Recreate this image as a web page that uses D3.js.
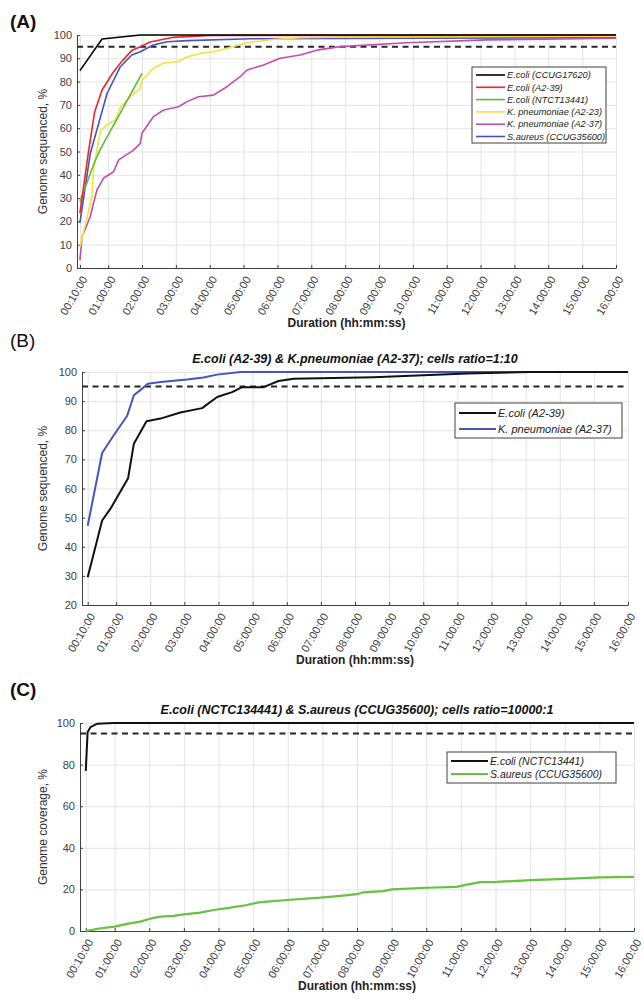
<!DOCTYPE html>
<html>
<head>
<meta charset="utf-8">
<script src="https://cdn.jsdelivr.net/npm/d3@7"></script>
<style>
  body { margin: 0; background: #fff; }
  svg { display: block; font-family: "Liberation Sans", Arial, sans-serif; }
  .grid line { stroke: #e3e3e3; stroke-width: 1; }
  .grid path { display: none; }
  .axis path, .axis line { stroke: #404040; stroke-width: 1; }
  .axis text { fill: #404040; font-size: 11px; }
</style>
</head>
<body>
<svg id="chart" width="644" height="999"></svg>
<script>
/* x ticks, in hours, with their labels */
var xTickHours = [1/6, 1, 2, 3, 4, 5, 6, 7, 8, 9, 10, 11, 12, 13, 14, 15, 16];
var xTickLabels = ["00:10:00", "01:00:00", "02:00:00", "03:00:00", "04:00:00", "05:00:00",
  "06:00:00", "07:00:00", "08:00:00", "09:00:00", "10:00:00", "11:00:00", "12:00:00",
  "13:00:00", "14:00:00", "15:00:00", "16:00:00"];
var yTicksA = [0, 10, 20, 30, 40, 50, 60, 70, 80, 90, 100];
var yTicksB = [20, 30, 40, 50, 60, 70, 80, 90, 100];
var yTicksC = [0, 20, 40, 60, 80, 100];
var threshold = 95;

/* PANEL A : time (h) and genome sequenced (%) */
var namesA = ["E.coli (CCUG17620)", "E.coli (A2-39)", "E.coli (NTCT13441)",
  "K. pneumoniae (A2-23)", "K. pneumoniae (A2-37)", "S.aureus (CCUG35600)"];
var tA_ccug17620 = [1/6, 0.82, 1.95, 16];
var vA_ccug17620 = [84.7, 98.3, 100, 100];
var tA_a239 = [1/6, 0.41, 0.6, 0.82, 1.15, 1.42, 1.71, 1.95, 2.24, 2.92, 4.0, 16];
var vA_a239 = [23.6, 49, 67, 76.4, 84, 89, 93.5, 95, 97, 99, 99.8, 100];
var tA_ntct = [1/6, 0.6, 0.77, 1.3, 2.0];
var vA_ntct = [28.5, 45.5, 51, 65, 83.5];
var tA_a223 = [1/6, 0.52, 0.57, 0.67, 0.77, 0.97, 1.21, 1.36, 1.65, 1.95, 2.0, 2.15, 2.33,
  2.63, 3.07, 3.34, 3.72, 4.1, 4.52, 5.1, 5.87, 6.67, 9, 16];
var vA_a223 = [9, 30.6, 42, 50.6, 59, 61.4, 63.5, 69, 73.5, 77, 80.7, 82.8, 85.7,
  87.9, 88.6, 90.7, 92.1, 92.8, 94.3, 96.7, 98.1, 98.8, 99.4, 99.6];
var tA_a237 = [1/6, 0.23, 0.47, 0.57, 0.67, 0.86, 1.16, 1.31, 1.75, 1.95, 2.0, 2.34, 2.64,
  3.08, 3.33, 3.67, 4.11, 4.51, 4.9, 5.1, 5.59, 6.08, 6.67, 7.16, 7.85, 9.82, 12.18, 16];
var vA_a237 = [3.4, 13.4, 22, 28, 33.5, 38.5, 41.3, 46.4, 50.6, 53.5, 57.8, 65, 67.8,
  69.2, 71.4, 73.5, 74.2, 77.8, 82.1, 85, 87.1, 90, 91.4, 93.5, 95, 96.7, 97.9, 98.6];
var tA_ccug35600 = [1/6, 0.47, 0.97, 1.36, 1.7, 1.95, 2.33, 2.75, 3.34, 5.2, 16];
var vA_ccug35600 = [19.4, 49, 75, 86.4, 91.4, 92.8, 95.7, 97.1, 97.6, 98.4, 98.8];

/* PANEL B */
var namesB = ["E.coli (A2-39)", "K. pneumoniae (A2-37)"];
var tB_ecoli = [1/6, 0.59, 0.83, 1.35, 1.52, 1.89, 2.3, 2.88, 3.52, 3.96, 4.4, 4.69, 5.32,
  5.76, 6.2, 8.54, 9.82, 11.28, 13.1, 16];
var vB_ecoli = [29.5, 49, 53, 63.5, 75.4, 83.1, 84, 86.1, 87.6, 91.4, 93.1, 94.8, 94.8,
  96.9, 97.7, 98.2, 98.8, 99.5, 100, 100];
var tB_kpn = [1/6, 0.59, 0.93, 1.32, 1.52, 1.76, 1.93, 2.3, 3.08, 3.56, 3.96, 4.64, 16];
var vB_kpn = [47.2, 72.2, 78.3, 84.9, 92, 94.3, 96, 96.6, 97.4, 98.1, 99.1, 100, 100];

/* PANEL C */
var namesC = ["E.coli (NCTC13441)", "S.aureus (CCUG35600)"];
var tC_ecoli = [1/6, 0.22, 0.3, 0.49, 0.97, 16];
var vC_ecoli = [77, 95.6, 98, 99.6, 100, 100];
var tC_saureus = [1/6, 0.59, 1.0, 1.36, 1.74, 2.0, 2.32, 2.7, 3.0, 3.47, 3.86, 4.34, 4.82,
  5.11, 5.4, 5.98, 6.94, 7.52, 8.0, 8.19, 8.76, 9.0, 10.02, 10.88, 11.17, 11.56, 12.04,
  13.02, 14.03, 15.02, 16];
var vC_saureus = [0, 1.3, 2.1, 3.4, 4.5, 5.8, 6.9, 7.3, 8, 8.8, 10.1, 11.2, 12.5,
  13.6, 14.1, 14.9, 16, 16.9, 17.7, 18.6, 19.2, 20, 20.8, 21.2, 22.3, 23.5, 23.6,
  24.5, 25.1, 25.8, 26];

var svg = d3.select("#chart");

function zip(t, v) { return t.map(function(d, i){ return [d, v[i]]; }); }

/* DRAWS ONE PANEL: GRID, AXES, DASHED 95% LINE, SERIES AND LEGEND */
function drawPanel(p) {
  var x = d3.scaleLinear().domain(p.xDomain).range([p.left, p.right]);
  var y = d3.scaleLinear().domain(p.yDomain).range([p.bottom, p.top]);
  var h = p.bottom - p.top, w = p.right - p.left;

  svg.append("text").attr("x", 10).attr("y", p.letterY)
    .attr("font-size", "19px").attr("font-weight", p.letterBold ? "bold" : "normal")
    .attr("fill", "#111").text(p.letter);

  if (p.title) {
    svg.append("text").attr("x", (p.left + p.right) / 2).attr("y", p.top - 9)
      .attr("text-anchor", "middle").attr("font-size", "12.5px")
      .attr("font-weight", "bold").attr("font-style", "italic")
      .attr("fill", "#111").text(p.title);
  }

  // grid
  svg.append("g").attr("class", "grid").attr("transform", "translate(0," + p.bottom + ")")
    .call(d3.axisBottom(x).tickValues(xTickHours).tickSize(-h).tickFormat(""));
  svg.append("g").attr("class", "grid").attr("transform", "translate(" + p.left + ",0)")
    .call(d3.axisLeft(y).tickValues(p.yTicks).tickSize(-w).tickFormat(""));

  // axes
  var xa = svg.append("g").attr("class", "axis").attr("transform", "translate(0," + p.bottom + ")")
    .call(d3.axisBottom(x).tickValues(xTickHours).tickSizeInner(-3).tickSizeOuter(0)
      .tickFormat(function(d, i){ return xTickLabels[i]; }));
  xa.selectAll("text")
    .attr("x", 0).attr("y", 0).attr("dy", "0.35em")
    .attr("text-anchor", "end")
    .attr("transform", "translate(4,9) rotate(-60)");
  var ya = svg.append("g").attr("class", "axis").attr("transform", "translate(" + p.left + ",0)")
    .call(d3.axisLeft(y).tickValues(p.yTicks).tickSizeInner(-3).tickSizeOuter(0));
  ya.selectAll("text").attr("x", -5);

  svg.append("text").attr("x", (p.left + p.right) / 2).attr("y", p.bottom + 59)
    .attr("text-anchor", "middle").attr("font-size", "12px").attr("font-weight", "bold")
    .attr("fill", "#222").text("Duration (hh:mm:ss)");
  svg.append("text")
    .attr("transform", "translate(" + p.yLabelX + "," + ((p.top + p.bottom) / 2) + ") rotate(-90)")
    .attr("text-anchor", "middle").attr("font-size", "12px")
    .attr("fill", "#333").text(p.yLabel);

  // 95% threshold
  svg.append("line").attr("x1", p.left).attr("x2", p.right)
    .attr("y1", y(threshold)).attr("y2", y(threshold))
    .attr("stroke", "#262626").attr("stroke-width", 2).attr("stroke-dasharray", "6,4.5");

  var line = d3.line().x(function(d){ return x(d[0]); }).y(function(d){ return y(d[1]); });
  p.series.slice().reverse().forEach(function(s) {
    svg.append("path").datum(zip(s.t, s.v)).attr("d", line)
      .attr("fill", "none").attr("stroke", s.color).attr("stroke-width", s.width || 1.6)
      .attr("stroke-linejoin", "round");
  });

  // legend
  var L = p.legend;
  svg.append("rect").attr("x", L.x).attr("y", L.y).attr("width", L.w).attr("height", L.h)
    .attr("fill", "#fff").attr("stroke", "#404040").attr("stroke-width", 1);
  p.series.forEach(function(s, i) {
    var cy = L.y + L.pad + i * L.step;
    svg.append("line").attr("x1", L.x + 4).attr("x2", L.x + 4 + L.lineLen)
      .attr("y1", cy).attr("y2", cy).attr("stroke", s.color).attr("stroke-width", s.width || 1.6);
    svg.append("text").attr("x", L.x + 6 + L.lineLen).attr("y", cy).attr("dy", "0.35em")
      .attr("font-size", L.font).attr("font-style", "italic").attr("fill", "#222").text(s.name);
  });
}

drawPanel({
  letter: "(A)", letterY: 28, letterBold: true,
  left: 77, right: 616, top: 35, bottom: 268,
  xDomain: [0.08, 16], yDomain: [0, 100], yTicks: yTicksA,
  yLabel: "Genome sequenced, %", yLabelX: 47,
  series: [
    { name: namesA[0], t: tA_ccug17620, v: vA_ccug17620, color: "#000000" },
    { name: namesA[1], t: tA_a239, v: vA_a239, color: "#f02424" },
    { name: namesA[2], t: tA_ntct, v: vA_ntct, color: "#5dbb3a" },
    { name: namesA[3], t: tA_a223, v: vA_a223, color: "#f2e33c" },
    { name: namesA[4], t: tA_a237, v: vA_a237, color: "#c04db6" },
    { name: namesA[5], t: tA_ccug35600, v: vA_ccug35600, color: "#4455bb" }
  ],
  legend: { x: 472, y: 67, w: 134, h: 76, pad: 8, step: 12.3, lineLen: 29, font: "9.2px" }
});

drawPanel({
  letter: "(B)", letterY: 347, letterBold: false,
  title: "E.coli (A2-39) & K.pneumoniae (A2-37); cells ratio=1:10",
  left: 82, right: 628, top: 372, bottom: 605,
  xDomain: [0, 16], yDomain: [20, 100], yTicks: yTicksB,
  yLabel: "Genome sequenced, %", yLabelX: 47,
  series: [
    { name: namesB[0], t: tB_ecoli, v: vB_ecoli, color: "#111111", width: 2 },
    { name: namesB[1], t: tB_kpn, v: vB_kpn, color: "#4455bb", width: 2 }
  ],
  legend: { x: 455, y: 403, w: 167, h: 35, pad: 10, step: 16, lineLen: 37, font: "11px" }
});

drawPanel({
  letter: "(C)", letterY: 696, letterBold: true,
  title: "E.coli (NCTC134441) & S.aureus (CCUG35600); cells ratio=10000:1",
  left: 80, right: 634, top: 723, bottom: 931,
  xDomain: [0, 16], yDomain: [0, 100], yTicks: yTicksC,
  yLabel: "Genome coverage, %", yLabelX: 47,
  series: [
    { name: namesC[0], t: tC_ecoli, v: vC_ecoli, color: "#111111", width: 2 },
    { name: namesC[1], t: tC_saureus, v: vC_saureus, color: "#66c23f", width: 2.2 }
  ],
  legend: { x: 447, y: 752, w: 169, h: 31, pad: 9, step: 13, lineLen: 37, font: "10.5px" }
});
</script>
</body>
</html>
